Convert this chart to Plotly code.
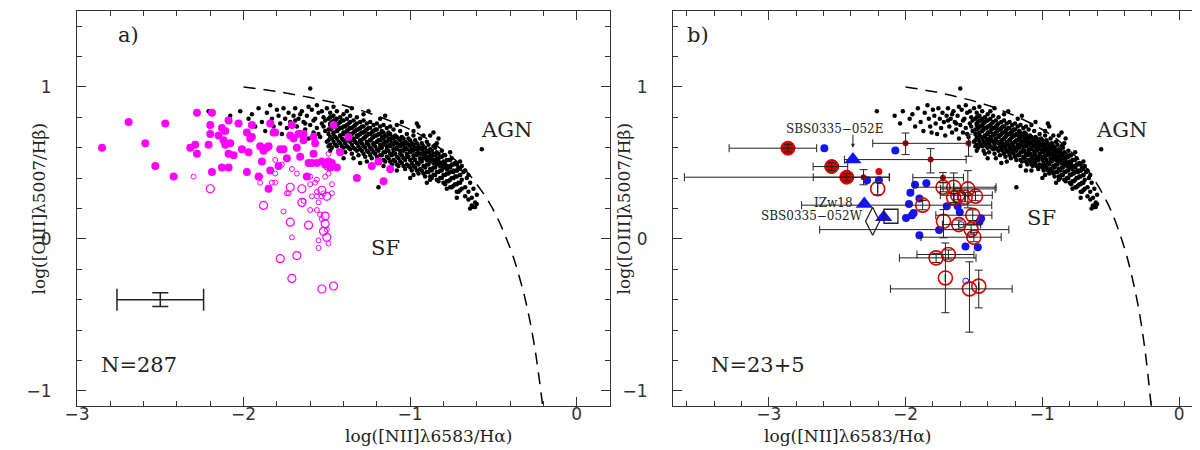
import plotly.graph_objects as go

# dashed demarcation curve
demarc_x = [-2.0, -1.8, -1.6, -1.4, -1.2, -1.0, -0.9, -0.8, -0.7, -0.6, -0.5, -0.4, -0.35, -0.3, -0.25, -0.2]
demarc_y = [1.00, 0.97, 0.93, 0.88, 0.81, 0.72, 0.66, 0.58, 0.49, 0.36, 0.19, -0.06, -0.23, -0.44, -0.73, -1.14]

# SDSS comparison galaxies (black dots, same in both panels)
sdss_pts = [
    (-2.21, 0.84), (-2.08, 0.81), (-2.04, 0.76), (-2.02, 0.84), (-1.97, 0.79), (-1.95, 0.82), (-1.93, 0.74),
    (-1.91, 0.86), (-1.89, 0.77), (-1.87, 0.71), (-1.86, 0.83), (-1.84, 0.88), (-1.83, 0.79), (-1.82, 0.74),
    (-1.81, 0.70), (-1.80, 0.85), (-1.79, 0.81), (-1.78, 0.76), (-1.77, 0.69), (-1.76, 0.86), (-1.75, 0.79),
    (-1.74, 0.73), (-1.73, 0.83), (-1.72, 0.77), (-1.71, 0.68), (-1.70, 0.81), (-1.69, 0.86), (-1.68, 0.74),
    (-1.67, 0.79), (-1.66, 0.70), (-1.65, 0.84), (-1.64, 0.77), (-1.63, 0.72), (-1.62, 0.81), (-1.61, 0.66),
    (-1.60, 0.99), (-1.60, 0.75), (-1.59, 0.85), (-1.58, 0.70), (-1.57, 0.79), (-1.56, 0.73), (-1.55, 0.83),
    (-1.54, 0.67), (-1.53, 0.76), (-1.52, 0.80), (-1.51, 0.71), (-1.50, 0.86), (-1.50, 0.64), (-1.69, 0.78),
    (-1.66, 0.82), (-1.63, 0.76), (-1.61, 0.87), (-1.58, 0.78), (-1.56, 0.88), (-1.55, 0.69), (-1.53, 0.84),
    (-1.52, 0.74), (-1.51, 0.78),
    (-1.49, 0.61), (-1.49, 0.65), (-1.49, 0.69), (-1.49, 0.72), (-1.48, 0.75), (-1.49, 0.79), (-1.48, 0.83),
    (-1.47, 0.60), (-1.47, 0.66), (-1.46, 0.70), (-1.47, 0.73), (-1.47, 0.77), (-1.46, 0.81),
    (-1.45, 0.62), (-1.45, 0.67), (-1.44, 0.71), (-1.45, 0.74), (-1.45, 0.78), (-1.44, 0.84),
    (-1.43, 0.58), (-1.43, 0.64), (-1.42, 0.68), (-1.43, 0.72), (-1.43, 0.76), (-1.42, 0.80),
    (-1.41, 0.61), (-1.41, 0.66), (-1.40, 0.69), (-1.41, 0.73), (-1.41, 0.78), (-1.40, 0.82),
    (-1.39, 0.57), (-1.39, 0.63), (-1.38, 0.67), (-1.39, 0.70), (-1.39, 0.74), (-1.38, 0.79),
    (-1.37, 0.60), (-1.37, 0.65), (-1.36, 0.68), (-1.37, 0.72), (-1.37, 0.76), (-1.36, 0.81),
    (-1.35, 0.56), (-1.35, 0.62), (-1.34, 0.66), (-1.35, 0.69), (-1.35, 0.73), (-1.34, 0.78),
    (-1.33, 0.59), (-1.33, 0.64), (-1.32, 0.67), (-1.33, 0.71), (-1.33, 0.75), (-1.32, 0.80),
    (-1.31, 0.55), (-1.31, 0.61), (-1.30, 0.65), (-1.31, 0.68), (-1.31, 0.72), (-1.30, 0.77),
    (-1.29, 0.58), (-1.29, 0.63), (-1.28, 0.66), (-1.29, 0.70), (-1.29, 0.74), (-1.28, 0.78),
    (-1.27, 0.54), (-1.27, 0.60), (-1.26, 0.64), (-1.27, 0.67), (-1.27, 0.71), (-1.26, 0.76),
    (-1.25, 0.57), (-1.25, 0.62), (-1.24, 0.65), (-1.25, 0.69), (-1.25, 0.73), (-1.24, 0.77),
    (-1.23, 0.53), (-1.23, 0.59), (-1.22, 0.63), (-1.23, 0.66), (-1.23, 0.70), (-1.22, 0.75),
    (-1.21, 0.56), (-1.21, 0.61), (-1.20, 0.64), (-1.21, 0.68), (-1.21, 0.72), (-1.20, 0.76),
    (-1.19, 0.52), (-1.19, 0.58), (-1.18, 0.62), (-1.19, 0.65), (-1.19, 0.69), (-1.18, 0.74),
    (-1.17, 0.55), (-1.17, 0.60), (-1.16, 0.63), (-1.17, 0.67), (-1.17, 0.71), (-1.16, 0.75),
    (-1.15, 0.51), (-1.15, 0.57), (-1.14, 0.61), (-1.15, 0.64), (-1.15, 0.68), (-1.14, 0.73),
    (-1.13, 0.53), (-1.13, 0.58), (-1.12, 0.62), (-1.13, 0.66), (-1.13, 0.70), (-1.12, 0.74),
    (-1.11, 0.49), (-1.11, 0.55), (-1.10, 0.59), (-1.11, 0.63), (-1.11, 0.67), (-1.10, 0.72),
    (-1.09, 0.51), (-1.09, 0.56), (-1.08, 0.60), (-1.09, 0.64), (-1.09, 0.68),
    (-1.07, 0.48), (-1.07, 0.53), (-1.06, 0.58), (-1.07, 0.62), (-1.07, 0.66), (-1.06, 0.71),
    (-1.05, 0.50), (-1.05, 0.55), (-1.04, 0.59), (-1.05, 0.63), (-1.05, 0.67),
    (-1.03, 0.46), (-1.03, 0.52), (-1.02, 0.56), (-1.03, 0.60), (-1.03, 0.64), (-1.02, 0.69),
    (-1.01, 0.48), (-1.01, 0.54), (-1.00, 0.58), (-1.01, 0.62), (-1.01, 0.66),
    (-0.99, 0.45), (-0.99, 0.50), (-0.98, 0.55), (-0.99, 0.59), (-0.99, 0.63), (-0.98, 0.68),
    (-0.97, 0.47), (-0.97, 0.52), (-0.96, 0.56), (-0.97, 0.60), (-0.97, 0.65),
    (-0.95, 0.43), (-0.95, 0.49), (-0.94, 0.53), (-0.95, 0.57), (-0.95, 0.61), (-0.94, 0.66),
    (-0.93, 0.45), (-0.93, 0.51), (-0.92, 0.55), (-0.93, 0.59), (-0.93, 0.63),
    (-0.91, 0.41), (-0.91, 0.47), (-0.90, 0.52), (-0.91, 0.56), (-0.91, 0.60), (-0.90, 0.64),
    (-0.89, 0.44), (-0.89, 0.49), (-0.88, 0.53), (-0.89, 0.57), (-0.89, 0.62),
    (-0.87, 0.40), (-0.87, 0.45), (-0.86, 0.50), (-0.87, 0.54), (-0.87, 0.58), (-0.86, 0.61),
    (-0.85, 0.42), (-0.85, 0.47), (-0.84, 0.51), (-0.85, 0.55), (-0.85, 0.60),
    (-0.83, 0.38), (-0.83, 0.44), (-0.82, 0.48), (-0.83, 0.52), (-0.83, 0.56),
    (-0.81, 0.40), (-0.81, 0.45), (-0.80, 0.49), (-0.81, 0.54), (-0.81, 0.58),
    (-0.79, 0.36), (-0.79, 0.42), (-0.78, 0.46), (-0.79, 0.50), (-0.79, 0.55),
    (-0.77, 0.38), (-0.77, 0.43), (-0.76, 0.47), (-0.77, 0.52),
    (-0.75, 0.34), (-0.75, 0.40), (-0.74, 0.44), (-0.75, 0.49), (-0.75, 0.53),
    (-0.73, 0.36), (-0.73, 0.41), (-0.72, 0.45), (-0.73, 0.50),
    (-0.71, 0.31), (-0.71, 0.37), (-0.70, 0.42), (-0.71, 0.47),
    (-0.69, 0.33), (-0.69, 0.39), (-0.68, 0.44), (-0.69, 0.48),
    (-0.67, 0.28), (-0.67, 0.34), (-0.66, 0.40), (-0.67, 0.45),
    (-0.65, 0.26), (-0.65, 0.31), (-0.64, 0.37), (-0.65, 0.42),
    (-0.63, 0.22), (-0.63, 0.27), (-0.62, 0.33), (-0.61, 0.21), (-0.61, 0.24), (-0.60, 0.29),
    (-0.60, 0.23), (-0.62, 0.21), (-0.64, 0.20), (-0.57, 0.59), (-1.19, 0.34), (-0.95, 0.74), (-0.88, 0.68),
    (-0.83, 0.66), (-1.05, 0.77), (-1.35, 0.86), (-1.25, 0.84), (-1.15, 0.81), (-0.78, 0.33), (-0.72, 0.27),
    (-1.00, 0.40), (-0.90, 0.37), (-1.12, 0.45), (-1.40, 0.53), (-1.30, 0.50), (-0.96, 0.76), (-0.86, 0.70),
    (-1.48, 0.58), (-1.42, 0.56), (-1.34, 0.53), (-1.26, 0.51), (-1.16, 0.48), (-1.08, 0.45), (-0.98, 0.42),
    (-0.88, 0.39), (-1.46, 0.87), (-1.38, 0.84), (-1.28, 0.82), (-1.18, 0.79), (-1.08, 0.75), (-0.98, 0.71),
    (-0.92, 0.68), (-0.84, 0.63), (-0.76, 0.57), (-0.70, 0.51),
]
# denser core of the same cloud, one column of y values per x
sdss_core = [
    (-1.48, [0.62, 0.67, 0.72, 0.76, 0.80]), (-1.46, [0.64, 0.69, 0.74, 0.78]),
    (-1.44, [0.61, 0.66, 0.71, 0.75, 0.79]), (-1.42, [0.63, 0.68, 0.73, 0.77]),
    (-1.40, [0.60, 0.65, 0.70, 0.74, 0.78]), (-1.38, [0.61, 0.66, 0.71, 0.75]),
    (-1.36, [0.59, 0.64, 0.69, 0.73, 0.77]), (-1.34, [0.60, 0.65, 0.70, 0.74]),
    (-1.32, [0.58, 0.63, 0.68, 0.72, 0.76]), (-1.30, [0.59, 0.64, 0.69, 0.73]),
    (-1.28, [0.56, 0.61, 0.66, 0.70, 0.74]), (-1.26, [0.58, 0.63, 0.68, 0.72]),
    (-1.24, [0.55, 0.60, 0.65, 0.69, 0.73]), (-1.22, [0.57, 0.62, 0.67, 0.71]),
    (-1.20, [0.54, 0.59, 0.64, 0.68, 0.72]), (-1.18, [0.55, 0.60, 0.65, 0.69]),
    (-1.16, [0.52, 0.57, 0.62, 0.66, 0.70]), (-1.14, [0.54, 0.59, 0.64, 0.68]),
    (-1.12, [0.51, 0.56, 0.61, 0.65, 0.69]), (-1.10, [0.52, 0.57, 0.62, 0.66]),
    (-1.08, [0.49, 0.54, 0.59, 0.63, 0.67]), (-1.06, [0.51, 0.56, 0.61, 0.65]),
    (-1.04, [0.48, 0.53, 0.58, 0.62, 0.66]), (-1.02, [0.49, 0.54, 0.59, 0.63]),
    (-1.00, [0.47, 0.52, 0.57, 0.61, 0.65]), (-0.98, [0.48, 0.53, 0.58, 0.62]),
    (-0.96, [0.45, 0.50, 0.55, 0.59, 0.63]), (-0.94, [0.46, 0.51, 0.56, 0.60]),
    (-0.92, [0.43, 0.48, 0.53, 0.57, 0.61]), (-0.90, [0.44, 0.49, 0.54, 0.58]),
    (-0.88, [0.41, 0.46, 0.51, 0.55, 0.59]), (-0.86, [0.42, 0.47, 0.52, 0.56]),
    (-0.84, [0.39, 0.44, 0.49, 0.53, 0.57]), (-0.82, [0.40, 0.45, 0.50, 0.54]),
    (-0.80, [0.37, 0.42, 0.47, 0.51, 0.55]), (-0.78, [0.38, 0.43, 0.48, 0.52]),
    (-0.76, [0.34, 0.39, 0.44, 0.48, 0.52]), (-0.74, [0.35, 0.40, 0.45, 0.49]),
    (-0.72, [0.31, 0.36, 0.41, 0.45, 0.49]), (-0.70, [0.32, 0.37, 0.42, 0.46]),
]
sdss_x = [p[0] for p in sdss_pts] + [cx for cx, ys in sdss_core for _ in ys]
sdss_y = [p[1] for p in sdss_pts] + [v for cx, ys in sdss_core for v in ys]

# panel a: magenta sample
mag_fill_x = [-2.85, -2.69, -2.59, -2.47, -2.53, -2.42, -2.28, -2.19, -2.32, -2.29,
              -2.28, -2.21, -2.20, -2.20, -2.19, -2.13, -2.15, -2.12, -2.11, -2.09,
              -2.11, -2.08, -2.09, -2.06, -2.13, -2.09, -2.03, -2.01, -1.98, -1.95,
              -1.97, -1.98, -1.96, -1.95, -1.91, -1.90, -1.88, -1.89, -1.86, -1.85,
              -1.84, -1.85, -1.84, -1.82, -1.81, -1.79, -1.78, -1.76, -1.74, -1.71,
              -1.72, -1.70, -1.68, -1.67, -1.66, -1.64, -1.64, -1.62, -1.61, -1.59,
              -1.58, -1.57, -1.58, -1.56, -1.53, -1.51, -1.49, -1.48, -1.46, -1.47,
              -1.44, -1.42, -1.37, -1.32, -1.23, -1.19, -1.16, -1.12]
mag_fill_y = [0.60, 0.77, 0.63, 0.76, 0.48, 0.41, 0.83, 0.83, 0.60, 0.62,
              0.56, 0.62, 0.69, 0.75, 0.44, 0.73, 0.68, 0.65, 0.71, 0.78,
              0.62, 0.63, 0.56, 0.55, 0.47, 0.47, 0.76, 0.59, 0.70, 0.75,
              0.57, 0.44, 0.66, 0.67, 0.41, 0.61, 0.58, 0.51, 0.60, 0.33,
              0.76, 0.61, 0.45, 0.70, 0.70, 0.48, 0.59, 0.59, 0.53, 0.75,
              0.68, 0.66, 0.60, 0.69, 0.54, 0.65, 0.69, 0.41, 0.50, 0.50,
              0.67, 0.63, 0.56, 0.50, 0.51, 0.49, 0.51, 0.47, 0.75, 0.50,
              0.47, 0.57, 0.67, 0.40, 0.48, 0.51, 0.38, 0.46]
mag_small_x = [-2.30, -1.90, -1.90, -1.83, -1.81, -1.81, -1.81, -1.77, -1.76, -1.73, -1.74, -1.71, -1.68,
               -1.64, -1.60, -1.60, -1.57, -1.56, -1.56, -1.55, -1.53, -1.52, -1.47, -1.47, -1.49, -1.51,
               -1.50, -1.49, -1.56, -1.59, -1.60, -1.54, -1.50, -1.49, -1.55, -1.55, -1.56, -1.53, -1.71]
mag_small_y = [0.41, 0.41, 0.37, 0.37, 0.37, 0.43, 0.52, 0.49, 0.18, 0.30, 0.30, 0.46, 0.43,
               0.25, 0.41, 0.36, 0.37, 0.31, 0.28, 0.24, 0.28, 0.30, 0.30, 0.36, 0.43, 0.41,
               0.47, 0.56, 0.39, 0.28, 0.19, 0.16, 0.06, -0.03, -0.01, -0.06, 0.19, 0.13, 0.01]
mag_big_x = [-2.20, -1.88, -1.72, -1.65, -1.65, -1.53, -1.50, -1.72, -1.78, -1.68, -1.71, -1.53, -1.46,
             -1.61, -1.51, -1.51, -1.52, -1.50]
mag_big_y = [0.33, 0.22, 0.34, 0.33, 0.24, 0.32, 0.28, 0.11, -0.13, -0.11, -0.26, -0.33, -0.31,
             0.09, 0.15, 0.10, 0.05, 0.01]

# typical error of panel a
typ_x, typ_y, typ_xerr, typ_yerr = [-2.5], [-0.4], [0.26], [0.045]

# panel b: red, blue and special objects
red_big_x = [-2.86, -2.54, -2.43]
red_big_y = [0.597, 0.476, 0.406]
red_big_xlo = [0.43, 0.136, 0.245]
red_big_xhi = [0.21, 0.117, 0.31]
red_big_ylo = [0.025, 0.025, 0.025]
red_big_yhi = [0.025, 0.025, 0.025]

red_dot_x = [-2.00, -1.54, -1.817, -2.307, -1.727]
red_dot_y = [0.629, 0.629, 0.522, 0.406, 0.403]
red_dot_xlo = [0.24, 0, 0.63, 1.31, 0.22]
red_dot_xhi = [0.47, 0, 0.26, 0.19, 0.15]
red_dot_ylo = [0.074, 0.085, 0.088, 0.05, 0.033]
red_dot_yhi = [0.068, 0.06, 0.072, 0.05, 0.033]

red_lone_x = [-2.195]
red_lone_y = [0.443]

red_open_x = [-2.204, -1.875, -1.726, -1.648, -1.545, -1.619, -1.565, -1.489, -1.648, -1.723,
              -1.611, -1.509, -1.521, -1.501, -1.777, -1.687, -1.709, -1.533, -1.465]
red_open_y = [0.33, 0.222, 0.34, 0.34, 0.329, 0.287, 0.274, 0.281, 0.27, 0.116,
              0.094, 0.156, 0.061, 0.011, -0.125, -0.103, -0.257, -0.329, -0.311]
red_open_xlo = [0, 0.885, 0.215, 0, 0.2, 0.127, 0, 0, 0, 0, 0.12, 0.27, 1.107, 0.386, 0.268, 0.23, 0, 0.578, 0]
red_open_xhi = [0, 0.505, 0.388, 0, 0.2, 0.253, 0, 0, 0, 0, 0.16, 0.14, 0.276, 0.2, 0.292, 0.187, 0, 0.312, 0]
red_open_ylo = [0.04, 0.03, 0.03, 0.103, 0.125, 0.03, 0.03, 0.03, 0.03, 0.109,
                0.03, 0.035, 0.03, 0.03, 0.03, 0.03, 0.229, 0.285, 0.143]
red_open_yhi = [0.04, 0.03, 0.03, 0.094, 0.12, 0.03, 0.03, 0.03, 0.03, 0.077,
                0.03, 0.035, 0.03, 0.03, 0.03, 0.03, 0.23, 0.178, 0.105]

blue_x = [-2.594, -2.075, -2.282, -2.195, -1.931, -1.848, -1.965, -1.899, -1.975, -1.941, -1.953,
          -1.997, -1.899, -1.755, -1.699, -1.619, -1.604, -1.562, -1.472, -1.448, -1.460]
blue_y = [0.597, 0.581, 0.386, 0.386, 0.357, 0.366, 0.303, 0.265, 0.230, 0.171, 0.156,
          0.138, 0.024, 0.059, 0.215, 0.215, 0.175, -0.050, -0.055, 0.134, 0.112]
blue_open_x = [-1.560, -1.594]
blue_open_y = [-0.278, 0.094]

tri_x = [-2.385, -2.302, -2.160]
tri_y = [0.522, 0.230, 0.143]
diamond_x, diamond_y = [-2.241], [0.116]
square_x, square_y = [-2.107], [0.149]

MAG = "#ff00ff"
RED = "#e00000"
DARKRED = "#b30000"
BLUE = "#1414f0"
INK = "#222222"

fig = go.Figure()


def dots(x, y, xa, ya, size, color, symbol="circle", lw=0):
    fig.add_trace(go.Scatter(
        x=x, y=y, xaxis=xa, yaxis=ya, mode="markers", showlegend=False, hoverinfo="skip",
        marker=dict(size=size, color=color, symbol=symbol, line=dict(width=lw, color=color)),
    ))


for xa, ya in [("x", "y"), ("x2", "y2")]:
    fig.add_trace(go.Scatter(x=demarc_x, y=demarc_y, xaxis=xa, yaxis=ya, mode="lines",
                             line=dict(color="black", width=1.5, dash="12px,8px", shape="spline"),
                             showlegend=False, hoverinfo="skip"))
    dots(sdss_x, sdss_y, xa, ya, 4.5, "black")

# panel a
dots(mag_small_x, mag_small_y, "x", "y", 5, MAG, "circle-open", 1)
dots(mag_big_x, mag_big_y, "x", "y", 8, MAG, "circle-open", 1.2)
dots(mag_fill_x, mag_fill_y, "x", "y", 8, MAG)
fig.add_trace(go.Scatter(
    x=typ_x, y=typ_y, mode="markers", marker=dict(size=1, opacity=0), showlegend=False, hoverinfo="skip",
    error_x=dict(type="data", array=typ_xerr, color=INK, thickness=1.5, width=11),
    error_y=dict(type="data", array=typ_yerr, color=INK, thickness=1.5, width=8),
))

# panel b
dots(blue_x, blue_y, "x2", "y2", 8, BLUE)
dots(blue_open_x, blue_open_y, "x2", "y2", 6, BLUE, "circle-open", 1)
dots(red_lone_x, red_lone_y, "x2", "y2", 7, RED)
dots(red_dot_x, red_dot_y, "x2", "y2", 6, DARKRED)
dots(red_big_x, red_big_y, "x2", "y2", 14, "#d40000", "circle", 1)
dots(red_open_x, red_open_y, "x2", "y2", 14, RED, "circle-open", 1.6)

err_x = red_big_x + red_dot_x + red_open_x
err_y = red_big_y + red_dot_y + red_open_y
fig.add_trace(go.Scatter(
    x=err_x, y=err_y, xaxis="x2", yaxis="y2", mode="markers", marker=dict(size=1, opacity=0),
    showlegend=False, hoverinfo="skip",
    error_x=dict(type="data", symmetric=False, array=red_big_xhi + red_dot_xhi + red_open_xhi,
                 arrayminus=red_big_xlo + red_dot_xlo + red_open_xlo, color=INK, thickness=1, width=4),
    error_y=dict(type="data", symmetric=False, array=red_big_yhi + red_dot_yhi + red_open_yhi,
                 arrayminus=red_big_ylo + red_dot_ylo + red_open_ylo, color=INK, thickness=1, width=4),
))

dots(tri_x, tri_y, "x2", "y2", 15, BLUE, "triangle-up")
dots(diamond_x, diamond_y, "x2", "y2", 20, INK, "diamond-tall-open", 1.3)
dots(square_x, square_y, "x2", "y2", 14, INK, "square-open", 1.3)


def axis_style(rng, domain, anchor, standoff):
    return dict(
        range=rng, domain=domain, anchor=anchor, showline=True, linecolor="#333", linewidth=1.2,
        mirror="allticks", ticks="inside", ticklen=9, tickwidth=1, tickcolor="#333",
        tick0=0, dtick=1, showgrid=False, zeroline=False, automargin=False,
        ticklabelstandoff=standoff,
        minor=dict(ticks="inside", ticklen=5, dtick=0.2, tick0=0, tickcolor="#333", tickwidth=1, showgrid=False),
        tickfont=dict(family="DejaVu Sans", size=17, color="#333"),
    )


serif = dict(family="DejaVu Serif", color="#222")
annotations = [
    dict(text="a)", x=-2.69, y=1.34, xref="x", yref="y", font=dict(size=21, **serif)),
    dict(text="b)", x=-3.52, y=1.34, xref="x2", yref="y2", font=dict(size=21, **serif)),
    dict(text="AGN", x=-0.42, y=0.72, xref="x", yref="y", font=dict(size=21, **serif)),
    dict(text="AGN", x=-0.42, y=0.72, xref="x2", yref="y2", font=dict(size=21, **serif)),
    dict(text="SF", x=-1.15, y=-0.06, xref="x", yref="y", font=dict(size=21, **serif)),
    dict(text="SF", x=-1.01, y=0.14, xref="x2", yref="y2", font=dict(size=21, **serif)),
    dict(text="N=287", x=-2.63, y=-0.83, xref="x", yref="y", font=dict(size=21, **serif)),
    dict(text="N=23+5", x=-3.08, y=-0.83, xref="x2", yref="y2", font=dict(size=21, **serif)),
    dict(text="SBS0335−052E", x=-2.515, y=0.725, xref="x2", yref="y2", font=dict(size=12, **serif)),
    dict(text="IZw18", x=-2.37, y=0.235, xref="x2", yref="y2", xanchor="right", font=dict(size=12, **serif)),
    dict(text="SBS0335−052W", x=-2.30, y=0.148, xref="x2", yref="y2", xanchor="right", font=dict(size=12, **serif)),
    dict(text="", x=-2.385, y=0.60, ax=-2.385, ay=0.695, xref="x2", yref="y2", axref="x2", ayref="y2",
         showarrow=True, arrowhead=2, arrowsize=0.8, arrowwidth=1, arrowcolor="#222"),
    dict(text="log([NII]λ6583/Hα)", x=0.279, y=-0.106, xref="paper", yref="paper", font=dict(size=17, **serif)),
    dict(text="log([NII]λ6583/Hα)", x=0.771, y=-0.106, xref="paper", yref="paper", font=dict(size=17, **serif)),
    dict(text="log([OIII]λ5007/Hβ)", x=0.015, y=0.5, xref="paper", yref="paper", textangle=-90,
         font=dict(size=17, **serif)),
    dict(text="log([OIII]λ5007/Hβ)", x=0.5125, y=0.5, xref="paper", yref="paper", textangle=-90,
         font=dict(size=17, **serif)),
]
for a in annotations:
    a.setdefault("showarrow", False)

fig.update_layout(
    width=1200, height=450,
    margin=dict(l=0, r=0, t=3, b=52),
    paper_bgcolor="white", plot_bgcolor="white",
    xaxis=axis_style([-3.0, 0.2], [0.0575, 0.5017], "y", -8),
    yaxis=axis_style([-1.1, 1.5], [0, 1], "x", 21),
    xaxis2=axis_style([-3.7, 0.16], [0.5542, 0.9942], "y2", -8),
    yaxis2=axis_style([-1.1, 1.5], [0, 1], "x2", 21),
    annotations=annotations,
)

fig.write_html("out.html")
